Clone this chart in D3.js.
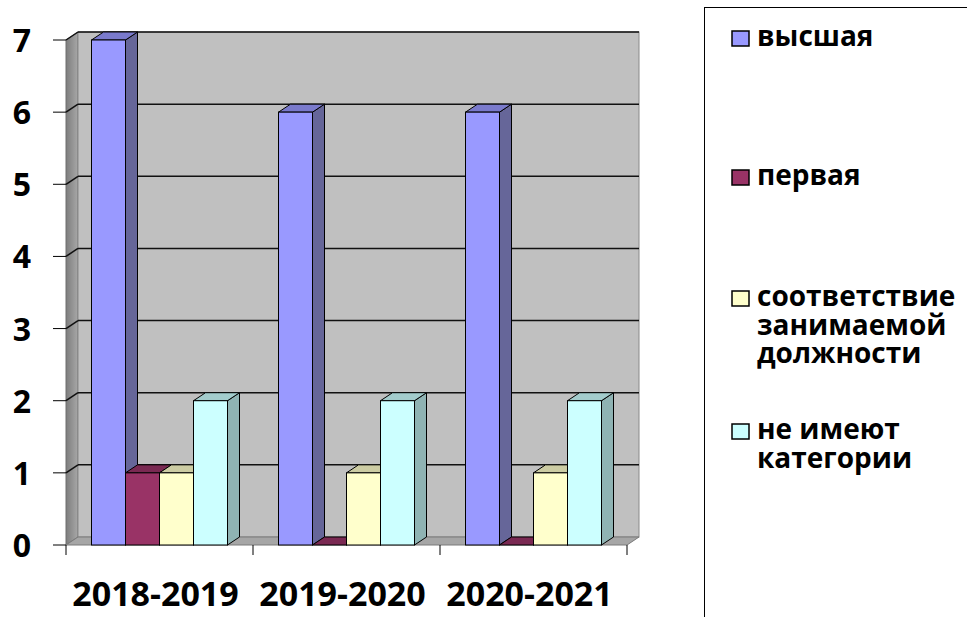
<!DOCTYPE html>
<html lang="ru">
<head>
<meta charset="utf-8" />
<script src="https://d3js.org/d3.v7.min.js"></script>
<style>
  html, body { margin: 0; padding: 0; background: #fff; }
  #wrap { position: relative; width: 967px; height: 617px; overflow: hidden; }
  #canvas { position: absolute; left: 0; top: 0; }
  text, .leg { font-family: "Open Sans", "DejaVu Sans", sans-serif; font-weight: bold; fill: #000; color: #000; }
  .leg { position: absolute; font-size: 28px; line-height: 28.5px; white-space: nowrap; }
</style>
</head>
<body>
<div id="wrap"><svg id="canvas" width="967" height="617"></svg></div>
<script>
// data
var years = ["2018-2019", "2019-2020", "2020-2021"];
var series = ["высшая", "первая", "соответствие занимаемой должности", "не имеют категории"];
var values = [
  [7, 1, 1, 2],
  [6, 0, 1, 2],
  [6, 0, 1, 2]
];
var yTicks = [0, 1, 2, 3, 4, 5, 6, 7];
var legendLines = [["высшая"], ["первая"], ["соответствие", "занимаемой", "должности"], ["не имеют", "категории"]];

var front = ["#9999ff", "#993366", "#ffffcc", "#ccffff"];
var side  = ["#666699", "#6b2447", "#b3b38f", "#8fb3b3"];
var topc  = ["#7a7acc", "#7a2952", "#cccca3", "#a3cccc"];

var svg = d3.select("#canvas");
var dx = 12, dy = -8;

var y = d3.scaleLinear().domain([0, 7]).range([545, 40]);
var x0 = d3.scaleBand().domain(years).range([66, 627]);
var x1 = d3.scaleBand().domain(d3.range(4)).range([0, x0.bandwidth()]).paddingInner(0).paddingOuter(0.75);

var left = x0.range()[0], right = x0.range()[1];

// side wall with a soft gradient
var grad = svg.append("defs").append("linearGradient").attr("id", "sidewall")
  .attr("x1", "0").attr("x2", "1").attr("y1", "0").attr("y2", "0");
grad.append("stop").attr("offset", "0").attr("stop-color", "#7d7d7d");
grad.append("stop").attr("offset", "1").attr("stop-color", "#a8a8a8");

svg.append("path")
  .attr("d", "M" + left + "," + y(7) + "L" + (left + dx) + "," + (y(7) + dy) + "L" + (left + dx) + "," + (y(0) + dy) + "L" + left + "," + y(0) + "Z")
  .attr("fill", "url(#sidewall)").attr("stroke", "#6e6e6e");
// back wall
svg.append("rect")
  .attr("x", left + dx).attr("y", y(7) + dy)
  .attr("width", right - left).attr("height", y(0) - y(7))
  .attr("fill", "#c0c0c0").attr("stroke", "#8a8a8a");
// floor
svg.append("path")
  .attr("d", "M" + left + "," + y(0) + "L" + (left + dx) + "," + (y(0) + dy) + "L" + (right + dx) + "," + (y(0) + dy) + "L" + right + "," + y(0) + "Z")
  .attr("fill", "#a6a6a6").attr("stroke", "#7a7a7a");

// gridlines
yTicks.forEach(function(t) {
  if (t === 0) return;
  svg.append("line")
    .attr("x1", left + dx).attr("x2", right + dx)
    .attr("y1", y(t) + dy).attr("y2", y(t) + dy)
    .attr("stroke", "#111").attr("stroke-width", 1.5);
  svg.append("line")
    .attr("x1", left).attr("x2", left + dx)
    .attr("y1", y(t)).attr("y2", y(t) + dy)
    .attr("stroke", "#111").attr("stroke-width", 1.5);
});

// y axis ticks + labels
yTicks.forEach(function(t) {
  svg.append("line").attr("x1", left - 13).attr("x2", left)
    .attr("y1", y(t)).attr("y2", y(t)).attr("stroke", "#000");
  svg.append("text").attr("x", 31).attr("y", y(t) + 12)
    .attr("text-anchor", "end").style("font-size", "32px").text(t);
});

// x axis ticks
x0.domain().concat(["end"]).forEach(function(c, i) {
  var xx = i < years.length ? x0(c) : right;
  svg.append("line").attr("x1", xx).attr("x2", xx)
    .attr("y1", y(0)).attr("y2", y(0) + 10).attr("stroke", "#000");
});

// bars
years.forEach(function(yr, gi) {
  var g = svg.append("g");
  values[gi].forEach(function(v, si) {
    var bx = x0(yr) + x1(si), bw = x1.bandwidth();
    var yt = y(v), yb = y(0);
    // side
    g.append("path")
      .attr("d", "M" + (bx + bw) + "," + yt + "L" + (bx + bw + dx) + "," + (yt + dy) + "L" + (bx + bw + dx) + "," + (yb + dy) + "L" + (bx + bw) + "," + yb + "Z")
      .attr("fill", side[si]).attr("stroke", "#000").attr("stroke-width", 1);
    // top
    g.append("path")
      .attr("d", "M" + bx + "," + yt + "L" + (bx + dx) + "," + (yt + dy) + "L" + (bx + bw + dx) + "," + (yt + dy) + "L" + (bx + bw) + "," + yt + "Z")
      .attr("fill", topc[si]).attr("stroke", "#000").attr("stroke-width", 1);
    // front
    if (v > 0) {
      g.append("rect").attr("x", bx).attr("y", yt).attr("width", bw).attr("height", yb - yt)
        .attr("fill", front[si]).attr("stroke", "#000").attr("stroke-width", 1);
    }
  });
});

// x labels
years.forEach(function(yr) {
  svg.append("text").attr("x", x0(yr) + x0.bandwidth() / 2 - 4).attr("y", 606)
    .attr("text-anchor", "middle").style("font-size", "34px").text(yr);
});

// legend box + keys
svg.append("rect").attr("x", 704.5).attr("y", 7.5).attr("width", 300).attr("height", 700)
  .attr("fill", "#fff").attr("stroke", "#000");
var legendY = [46, 185, 306, 439];   // baselines of first line
legendLines.forEach(function(lines, i) {
  svg.append("rect").attr("x", 732).attr("y", legendY[i] - 15).attr("width", 17).attr("height", 15)
    .attr("fill", front[i]).attr("stroke", "#000").attr("stroke-width", 1.5);
  // html block so the wrapped lines share one box with tight line spacing
  var d = d3.select("#wrap").append("div").attr("class", "leg")
    .style("left", "757px").style("top", (legendY[i] - 25) + "px");
  lines.forEach(function(s, j) {
    if (j > 0) d.append("br");
    d.append("span").text(s);
  });
});
</script>
</body>
</html>
